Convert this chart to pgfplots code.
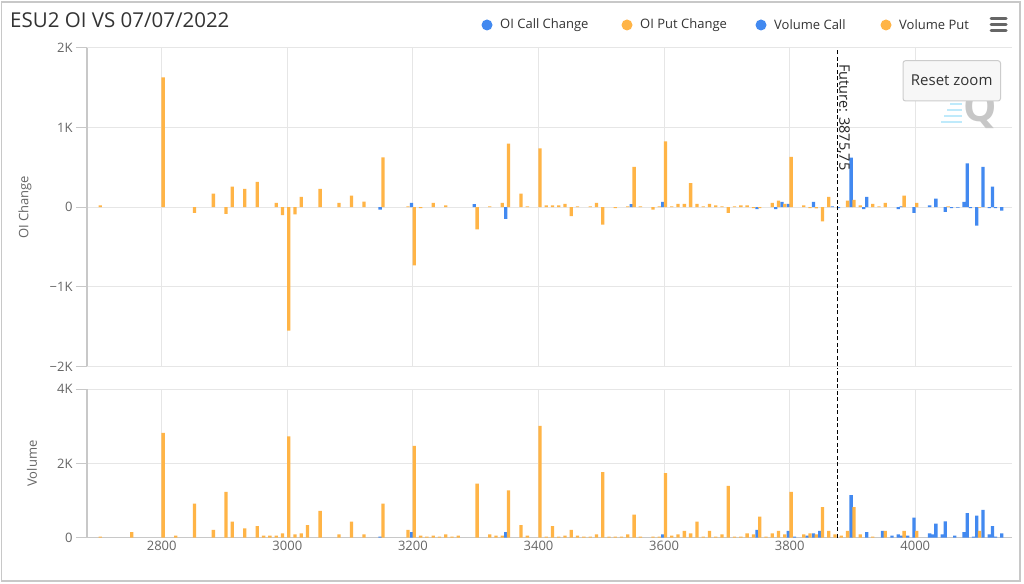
\documentclass[border=0pt]{standalone}
\usepackage{fontspec}
\setmainfont{Open Sans}
\usepackage{pgfplots}
\pgfplotsset{compat=1.18}
\definecolor{cblue}{HTML}{4289F0}
\definecolor{corange}{HTML}{FFB446}
\definecolor{gridc}{HTML}{E6E6E6}
\definecolor{axisc}{HTML}{C8C8C8}
\definecolor{labc}{HTML}{666666}
\definecolor{titc}{HTML}{333333}

\pgfplotsset{
  common/.style={
    scale only axis, width=925bp,
    xmin=2681, xmax=4154,
    xtick={2800,3000,3200,3400,3600,3800,4000},
    xmajorgrids, ymajorgrids, grid style={draw=gridc, line width=1bp},
    separate axis lines, axis x line*=bottom, axis y line*=left,
    y axis line style={-, draw=axisc, line width=1.2bp},
    xtick style={draw=none}, ytick style={draw=none},
    ticklabel style={font=\fontsize{13bp}{15bp}\selectfont, text=labc},
    yticklabel style={xshift=-11bp},
    clip=false,
  },
  callbar/.style={ybar, bar width=3.3bp, bar shift=-1.4bp, fill=cblue, draw=none},
  putbar/.style={ybar, bar width=3.3bp, bar shift=1.4bp, fill=corange, draw=none},
}

\begin{document}
\begin{tikzpicture}
\path[fill=white] (0bp,0bp) rectangle (1024bp,584bp);
\draw[axisc, line width=1.2bp] (1.5bp,3bp) rectangle (1020bp,582bp);

% title
\node[anchor=west, inner sep=0pt, text=titc, font=\fontsize{20.5bp}{23bp}\selectfont] at (10bp,564bp) {ESU2 OI VS 07/07/2022};

% legend
\fill[cblue] (487bp,559bp) circle (5.5bp);
\node[anchor=west, inner sep=0pt, text=titc, font=\fontsize{13bp}{15bp}\selectfont] at (500bp,559bp) {OI Call Change};
\fill[corange] (627bp,559bp) circle (5.5bp);
\node[anchor=west, inner sep=0pt, text=titc, font=\fontsize{13bp}{15bp}\selectfont] at (640bp,559bp) {OI Put Change};
\fill[cblue] (761bp,559bp) circle (5.5bp);
\node[anchor=west, inner sep=0pt, text=titc, font=\fontsize{13bp}{15bp}\selectfont] at (774bp,559bp) {Volume Call};
\fill[corange] (886bp,559bp) circle (5.5bp);
\node[anchor=west, inner sep=0pt, text=titc, font=\fontsize{13bp}{15bp}\selectfont] at (899bp,559bp) {Volume Put};
% menu icon
\foreach \yy in {553,559,565} \draw[labc, line width=3bp, line cap=round] (991bp,\yy bp) -- (1006bp,\yy bp);

\begin{axis}[common,
  at={(87bp,217.5bp)}, anchor=south west, height=318.5bp,
  ymin=-2000, ymax=2000,
  xticklabels={},
  ytick={-2000,-1000,0,1000,2000},
  yticklabels={−2K,−1K,0,1K,2K},
  x axis line style={draw=none},
  ylabel={OI Change},
  every axis y label/.style={at={([xshift=-62bp]rel axis cs:0,0.5)}, rotate=90, anchor=center, font=\fontsize{13bp}{15bp}\selectfont, text=labc},
]
\pgfplotsinvokeforeach{-2000,-1000,0,1000,2000}{
  \draw[axisc, line width=1bp] ([xshift=-11bp]axis cs:2681,#1) -- (axis cs:2681,#1);
}
\addplot[callbar] coordinates {
(3150,-30) (3200,55) (3300,40) (3350,-147) (3550,40) (3600,67) (3750,-25)
(3780,-25) (3790,67) (3800,42) (3840,67) (3870,10) (3880,-10) (3900,622)
(3920,-25) (3925,131) (3975,-25) (3980,10) (4000,-72) (4025,25) (4035,109)
(4050,-58) (4060,-10) (4070,-5) (4080,67) (4085,550) (4090,-10) (4100,-231)
(4110,508) (4120,-10) (4125,260) (4130,-10) (4140,-42)};
\addplot[putbar] coordinates {
(2700,25) (2800,1630) (2850,-70) (2880,172) (2900,-83) (2910,260) (2930,232)
(2950,320) (2980,55) (2990,-100) (3000,-1550) (3010,-88) (3020,131) (3050,232)
(3080,55) (3100,147) (3120,72) (3150,625) (3190,10) (3200,-730) (3210,-10)
(3230,55) (3250,25) (3300,-277) (3320,10) (3340,55) (3350,800) (3370,172)
(3380,10) (3400,740) (3410,25) (3420,25) (3430,25) (3440,42) (3450,-113)
(3460,10) (3480,10) (3490,55) (3500,-218) (3520,-10) (3540,10) (3550,508)
(3560,10) (3580,-30) (3590,10) (3600,828) (3610,10) (3620,42) (3630,42)
(3640,302) (3650,42) (3660,10) (3670,42) (3680,25) (3690,10) (3700,-72)
(3710,10) (3720,25) (3730,25) (3740,-10) (3750,-10) (3770,55) (3780,84)
(3790,42) (3800,634) (3820,25) (3830,-10) (3840,-15) (3850,-176) (3860,131)
(3890,84) (3900,92) (3910,25) (3930,42) (3940,10) (3950,55) (3980,147)
(4000,55) (4050,10) (4100,-5)};
\addplot[black, line width=1.3bp, dash pattern=on 4bp off 2.5bp] coordinates {(3875.75,-2000) (3875.75,2000)};
\node[rotate=-90, anchor=south west, inner sep=0pt, xshift=4bp, text=black!85, font=\fontsize{14.5bp}{16bp}\selectfont] at (axis cs:3875.75,1850) {Future: 3875,75};
\end{axis}

% watermark and reset button
\node[text=black!22, font=\bfseries\fontsize{42bp}{42bp}\selectfont] at (980bp,474bp) {Q};
\foreach \yy/\xa in {462/941,468/944,474/947,480/950} \draw[cyan!25, line width=1.5bp] (\xa bp,\yy bp) -- (962bp,\yy bp);
\draw[fill=black!3, draw=black!20, line width=1bp, rounded corners=2.5bp] (903bp,483bp) rectangle (1000.5bp,523.3bp);
\node[text=titc, font=\fontsize{15bp}{17bp}\selectfont] at (951.7bp,503.3bp) {Reset zoom};

\begin{axis}[common,
  at={(87bp,46.3bp)}, anchor=south west, height=148.4bp,
  ymin=0, ymax=4000,
  xticklabels={2800,3000,3200,3400,3600,3800,4000},
  ytick={0,2000,4000},
  yticklabels={0,2K,4K},
  x axis line style={-, draw=axisc, line width=1.2bp},
  ylabel={Volume},
  every axis y label/.style={at={([xshift=-55bp]rel axis cs:0,0.5)}, rotate=90, anchor=center, font=\fontsize{13bp}{15bp}\selectfont, text=labc},
]
\pgfplotsinvokeforeach{0,2000,4000}{
  \draw[axisc, line width=1bp] ([xshift=-11bp]axis cs:2681,#1) -- (axis cs:2681,#1);
}
\addplot[callbar] coordinates {
(3150,28) (3200,147) (3350,147) (3600,92) (3750,211) (3800,183) (3810,28)
(3830,55) (3840,119) (3850,183) (3900,1146) (3925,147) (3950,183) (3965,55)
(3975,92) (3980,55) (3990,55) (4000,541) (4025,119) (4030,92) (4035,376)
(4045,92) (4050,440) (4065,55) (4080,147) (4085,660) (4095,28) (4100,596)
(4110,752) (4120,92) (4125,312) (4130,28) (4140,119)};
\addplot[putbar] coordinates {
(2700,28) (2750,147) (2800,2824) (2820,55) (2850,917) (2880,211) (2900,1238)
(2910,431) (2930,248) (2950,312) (2960,55) (2970,55) (2980,55) (2990,119)
(3000,2733) (3010,92) (3020,119) (3030,339) (3050,724) (3080,92) (3100,431)
(3120,92) (3150,917) (3190,211) (3200,2476) (3210,55) (3220,28) (3230,55)
(3240,28) (3250,92) (3260,28) (3270,55) (3300,1458) (3320,92) (3330,55)
(3340,55) (3350,1275) (3370,339) (3380,55) (3400,3017) (3410,28) (3420,312)
(3430,28) (3440,55) (3450,211) (3460,55) (3470,28) (3480,28) (3490,92)
(3500,1770) (3510,28) (3520,28) (3530,28) (3540,92) (3550,624) (3560,28)
(3580,28) (3590,28) (3600,1742) (3610,55) (3620,92) (3630,183) (3640,119)
(3650,431) (3660,28) (3670,183) (3680,28) (3690,92) (3700,1394) (3710,28)
(3720,28) (3730,119) (3740,92) (3750,569) (3760,28) (3770,119) (3780,183)
(3790,92) (3800,1238) (3820,92) (3830,119) (3840,92) (3850,825) (3860,183)
(3870,92) (3880,55) (3890,183) (3900,825) (3910,92) (3930,28) (3950,183)
(3980,183) (4000,183) (4100,183)};
\addplot[black, line width=1.3bp, dash pattern=on 4bp off 2.5bp] coordinates {(3875.75,0) (3875.75,4585)};
\end{axis}
\end{tikzpicture}
\end{document}
